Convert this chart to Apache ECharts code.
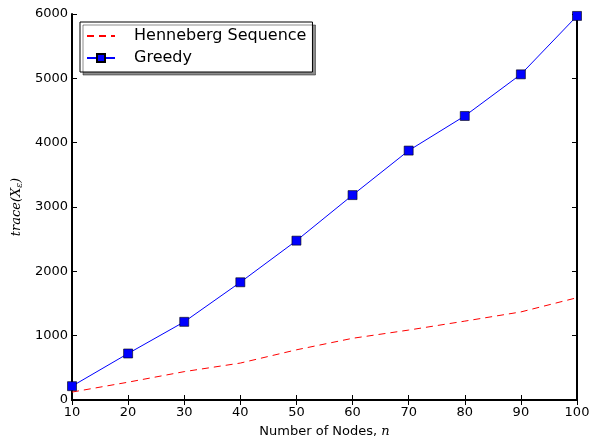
<!DOCTYPE html>
<html>
<head>
<meta charset="UTF-8">
<script src="https://cdn.jsdelivr.net/npm/echarts@6/dist/echarts.min.js"></script>
<style>
  html, body { margin: 0; padding: 0; background: #fff; }
  #chart { width: 601px; height: 443px; }
</style>
</head>
<body>
<div id="chart"></div>
<script>
  // values
  var nodes = [10, 20, 30, 40, 50, 60, 70, 80, 90, 100];
  var henneberg = [123, 277, 441, 574, 780, 959, 1087, 1226, 1369, 1590];
  var greedy = [215, 723, 1215, 1830, 2477, 3185, 3877, 4415, 5062, 5970];

  function pairs(xs, ys) {
    var out = [];
    for (var i = 0; i < xs.length; i++) out.push([xs[i], ys[i]]);
    return out;
  }

  var font = 'DejaVu Sans';
  var chart = echarts.init(document.getElementById('chart'));

  var baseX = {
    type: 'value', min: 10, max: 100, interval: 10,
    axisLine: { show: true, lineStyle: { color: '#000', width: 2 } },
    axisTick: { show: true, inside: true, length: 5, lineStyle: { color: '#000', width: 1 } },
    splitLine: { show: false }
  };
  var baseY = {
    type: 'value', min: 0, max: 6000, interval: 1000,
    axisLine: { show: true, lineStyle: { color: '#000', width: 2 } },
    axisTick: { show: true, inside: true, length: 5, lineStyle: { color: '#000', width: 1 } },
    splitLine: { show: false }
  };

  var option = {
    backgroundColor: '#fff',
    animation: false,
    textStyle: { fontFamily: font },
    grid: { left: 72, right: 24, top: 14, bottom: 39 },
    legend: {
      left: 80, top: 22,
      orient: 'vertical',
      itemWidth: 28, itemHeight: 10, itemGap: 6,
      padding: [6, 6, 6, 6],
      backgroundColor: '#fff',
      borderColor: '#000', borderWidth: 1,
      shadowColor: 'rgba(0,0,0,0.45)', shadowOffsetX: 3, shadowOffsetY: 3, shadowBlur: 0,
      textStyle: { fontFamily: font, fontSize: 16, color: '#000', padding: [0, 0, 0, 14] },
      data: [
        { name: 'Henneberg Sequence', itemStyle: { opacity: 0 } },
        'Greedy'
      ]
    },
    xAxis: [
      Object.assign({}, baseX, {
        position: 'bottom',
        axisLabel: { color: '#000', fontSize: 13, margin: 6 },
        name: '{t|Number of Nodes, }{i|n}',
        nameLocation: 'middle', nameGap: 25,
        nameTextStyle: {
          rich: {
            t: { fontFamily: font, fontSize: 13, color: '#000' },
            i: { fontFamily: 'DejaVu Serif', fontStyle: 'italic', fontSize: 13, color: '#000' }
          }
        }
      }),
      Object.assign({}, baseX, { position: 'top', axisLabel: { show: false } })
    ],
    yAxis: [
      Object.assign({}, baseY, {
        position: 'left',
        axisLabel: { color: '#000', fontSize: 13, margin: 4, formatter: function (v) { return String(v); } },
        name: '{i|trace(X}{s|ε}{i|)}',
        nameLocation: 'middle', nameGap: 45,
        nameTextStyle: {
          rich: {
            i: { fontFamily: 'DejaVu Serif', fontStyle: 'italic', fontSize: 13, color: '#000' },
            s: { fontFamily: 'DejaVu Serif', fontStyle: 'italic', fontSize: 9, color: '#000', padding: [6, 0, 0, 0] }
          }
        }
      }),
      Object.assign({}, baseY, { position: 'right', axisLabel: { show: false } })
    ],
    series: [
      {
        name: 'Henneberg Sequence',
        type: 'line',
        data: pairs(nodes, henneberg),
        symbol: 'none',
        itemStyle: { color: '#ff0000' },
        lineStyle: { color: '#ff0000', width: 1, type: [7, 5] }
      },
      {
        name: 'Greedy',
        type: 'line',
        data: pairs(nodes, greedy),
        symbol: 'rect', symbolSize: 9,
        itemStyle: { color: '#0000ff', borderColor: '#000', borderWidth: 0.6 },
        lineStyle: { color: '#0000ff', width: 1 }
      }
    ]
  };
  chart.setOption(option);
</script>
</body>
</html>
